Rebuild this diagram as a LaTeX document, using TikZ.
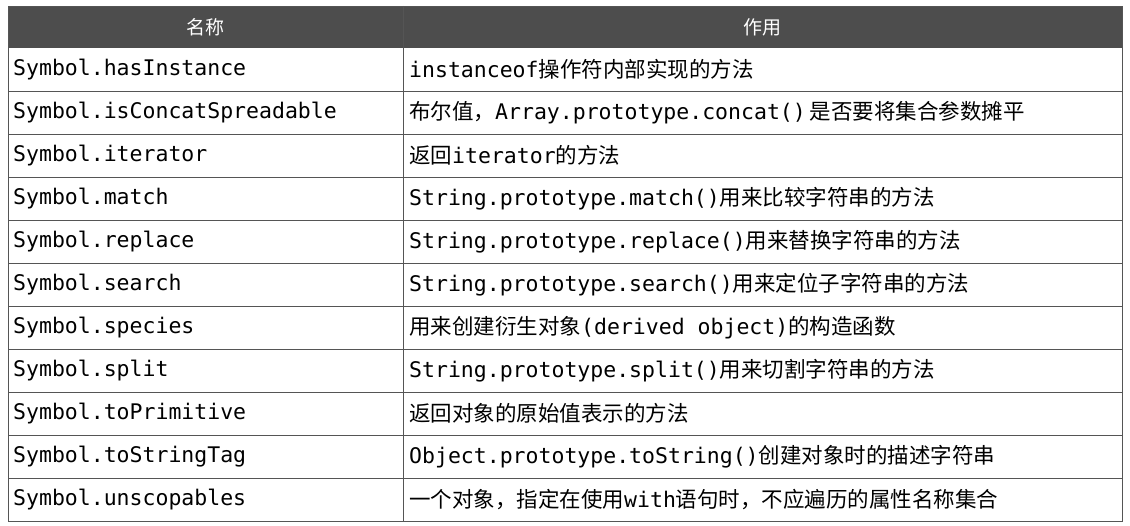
\documentclass[tikz,border=0pt]{standalone}
\usepackage{fontspec}
\newfontfamily\mono{DejaVu Sans Mono}
\newfontfamily\zh{Noto Sans CJK SC}
\newcommand{\m}[1]{{\mono #1}}
\newcommand{\z}[1]{{\zh #1}}
\definecolor{hdr}{HTML}{4D4D4D}
\definecolor{grid}{HTML}{555555}
\begin{document}
\begin{tikzpicture}[x=1pt,y=1pt,
  cell/.style={anchor=west,inner sep=0pt,font=\fontsize{21.5}{26}\selectfont,text=black},
  head/.style={inner sep=0pt,font=\zh\fontsize{19}{24}\selectfont,text=white}]
\useasboundingbox (0,0) rectangle (1130,-526);
\fill[white] (0,0) rectangle (1130,-526);
\fill[hdr] (8,-6) rectangle (1122,-48);
\node[head] (h1) at (205,-27) {名称};
\node[head] (h2) at (762,-27) {作用};
\foreach \i in {0,...,10} {
  \draw[grid,line width=0.8pt] (8,-48-43*\i-43) -- (1122,-48-43*\i-43);
}
\draw[grid,line width=0.8pt] (8,-6) rectangle (1122,-521);
\draw[grid,line width=0.8pt] (403,-6) -- (403,-521);
\def\r#1{-48-43*#1+21.5}
\node[cell] (a0) at (13,-69.5) {\m{Symbol.hasInstance}};
\node[cell] (b0) at (409,-69.5) {\m{instanceof}\z{操作符内部实现的方法}};
\node[cell] (a1) at (13,-112.5) {\m{Symbol.isConcatSpreadable}};
\node[cell] (b1) at (409,-112.5) {\z{布尔值，}\m{Array.prototype.concat()}\hspace{4pt}\z{是否要将集合参数摊平}};
\node[cell] (a2) at (13,-155.5) {\m{Symbol.iterator}};
\node[cell] (b2) at (409,-155.5) {\z{返回}\m{iterator}\z{的方法}};
\node[cell] (a3) at (13,-198.5) {\m{Symbol.match}};
\node[cell] (b3) at (409,-198.5) {\m{String.prototype.match()}\z{用来比较字符串的方法}};
\node[cell] (a4) at (13,-241.5) {\m{Symbol.replace}};
\node[cell] (b4) at (409,-241.5) {\m{String.prototype.replace()}\z{用来替换字符串的方法}};
\node[cell] (a5) at (13,-284.5) {\m{Symbol.search}};
\node[cell] (b5) at (409,-284.5) {\m{String.prototype.search()}\z{用来定位子字符串的方法}};
\node[cell] (a6) at (13,-327.5) {\m{Symbol.species}};
\node[cell] (b6) at (409,-327.5) {\z{用来创建衍生对象}\m{(derived object)}\z{的构造函数}};
\node[cell] (a7) at (13,-370.5) {\m{Symbol.split}};
\node[cell] (b7) at (409,-370.5) {\m{String.prototype.split()}\z{用来切割字符串的方法}};
\node[cell] (a8) at (13,-413.5) {\m{Symbol.toPrimitive}};
\node[cell] (b8) at (409,-413.5) {\z{返回对象的原始值表示的方法}};
\node[cell] (a9) at (13,-456.5) {\m{Symbol.toStringTag}};
\node[cell] (b9) at (409,-456.5) {\m{Object.prototype.toString()}\z{创建对象时的描述字符串}};
\node[cell] (a10) at (13,-499.5) {\m{Symbol.unscopables}};
\node[cell] (b10) at (409,-499.5) {\z{一个对象，指定在使用}\m{with}\z{语句时，不应遍历的属性名称集合}};
\end{tikzpicture}
\end{document}
